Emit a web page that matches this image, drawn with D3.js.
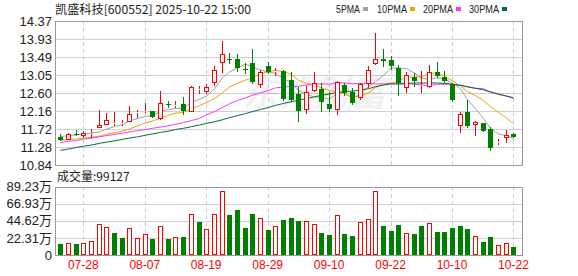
<!DOCTYPE html>
<html>
<head>
<meta charset="utf-8">
<script src="https://cdn.jsdelivr.net/npm/d3@7/dist/d3.min.js"></script>
<style>
  body { margin: 0; background: #fff; }
  text { font-family: "Liberation Sans", Arial, sans-serif; }
</style>
</head>
<body>
<div id="chart"></div>
<script>
var svgWidth = 578;
var svgHeight = 276;

// trading days shown
var dates = ["07-23","07-24","07-25","07-28","07-29","07-30","07-31","08-01","08-04","08-05",
  "08-06","08-07","08-08","08-11","08-12","08-13","08-14","08-15","08-18","08-19",
  "08-20","08-21","08-22","08-25","08-26","08-27","08-28","08-29","09-01","09-02",
  "09-03","09-04","09-05","09-08","09-09","09-10","09-11","09-12","09-15","09-16",
  "09-17","09-18","09-19","09-22","09-23","09-24","09-25","09-26","09-29","09-30",
  "10-09","10-10","10-13","10-14","10-15","10-16","10-17","10-20","10-21","10-22"];

var opens = [11.53,11.46,11.61,11.55,11.59,11.74,11.82,11.87,11.86,11.90,
  12.14,12.15,12.16,11.97,12.33,12.29,12.33,12.13,12.68,12.63,
  12.84,13.33,13.44,13.44,13.20,13.33,12.80,13.27,13.14,13.14,
  12.92,12.58,12.19,12.65,12.70,12.33,12.19,12.80,12.64,12.48,
  12.82,13.31,13.45,13.42,13.22,12.72,12.99,12.77,12.76,13.13,
  12.99,12.82,11.80,12.13,11.82,11.86,11.73,11.39,11.50,11.61];
var highs = [11.59,11.63,11.69,11.67,11.72,12.19,12.12,12.13,11.94,12.29,
  12.19,12.35,12.16,12.65,12.41,12.41,12.51,12.78,12.78,12.82,
  13.27,13.89,13.58,13.55,13.35,13.68,13.17,13.36,13.22,13.16,
  13.13,12.76,12.78,13.11,12.84,12.64,12.90,12.86,12.72,12.86,
  13.27,14.07,13.68,13.50,13.29,13.13,13.10,13.14,13.28,13.36,
  13.15,12.85,12.13,12.43,11.93,11.88,11.76,11.48,11.71,11.62];
var lows = [11.43,11.45,11.55,11.49,11.49,11.74,11.82,11.80,11.80,11.90,
  12.00,12.11,12.00,11.94,12.23,12.23,12.07,12.13,12.58,12.58,
  12.78,13.09,13.31,13.13,13.06,12.82,12.73,13.06,13.03,12.40,
  12.39,11.90,12.08,12.63,12.15,12.15,12.07,12.54,12.31,12.43,
  12.72,13.29,13.24,13.18,12.53,12.60,12.76,12.61,12.73,12.97,
  12.86,12.39,11.63,11.74,11.55,11.64,11.18,11.32,11.38,11.49];
var closes = [11.45,11.61,11.60,11.62,11.63,11.82,11.94,11.88,11.87,12.08,
  12.15,12.16,12.02,12.35,12.31,12.32,12.16,12.76,12.70,12.75,
  13.16,13.55,13.43,13.23,13.19,12.87,13.13,13.12,13.15,12.46,
  12.43,12.17,12.64,12.86,12.39,12.21,12.88,12.60,12.35,12.83,
  13.17,13.44,13.39,13.27,12.84,13.05,12.90,12.80,13.13,13.01,
  12.90,12.43,12.08,11.80,11.90,11.67,11.25,11.40,11.57,11.53];

// volume in 万 (10k) lots
var volumes = [14.3,15.2,14.3,15.2,18.2,40.0,36.1,28.7,22.1,34.8,
  21.7,27.0,20.8,37.4,20.8,23.0,23.4,53.0,43.4,33.5,
  53.0,83.0,52.1,58.6,35.2,53.4,47.8,32.6,37.4,45.6,
  48.2,44.3,43.9,40.4,28.7,26.1,52.1,27.4,24.7,43.0,
  46.5,83.0,37.8,31.7,39.1,28.3,27.4,37.8,41.7,30.4,
  30.4,35.2,37.8,33.9,24.3,16.9,23.4,12.6,15.6,9.91];

var ma5 = [11.54,11.56,11.58,11.60,11.62,11.65,11.72,11.78,11.83,11.92,
  11.98,12.03,12.06,12.15,12.20,12.23,12.23,12.38,12.45,12.53,
  12.71,12.98,13.12,13.22,13.31,13.25,13.17,13.11,13.09,12.95,
  12.86,12.67,12.57,12.51,12.50,12.45,12.60,12.59,12.49,12.57,
  12.77,12.88,13.04,13.22,13.22,13.20,13.09,12.97,12.94,12.98,
  12.95,12.85,12.71,12.44,12.22,11.98,11.74,11.60,11.56,11.48];
var ma10 = [11.45,11.46,11.48,11.50,11.52,11.55,11.59,11.63,11.67,11.72,
  11.80,11.87,11.92,11.99,12.06,12.11,12.13,12.22,12.30,12.37,
  12.47,12.61,12.75,12.84,12.92,12.98,13.08,13.12,13.16,13.13,
  13.06,12.92,12.84,12.80,12.73,12.66,12.64,12.58,12.50,12.54,
  12.61,12.74,12.82,12.86,12.90,12.99,12.99,13.01,13.08,13.10,
  13.02,12.90,12.78,12.64,12.54,12.42,12.27,12.13,11.99,11.85];
var ma20 = [11.39,11.42,11.44,11.47,11.50,11.53,11.56,11.59,11.62,11.65,
  11.68,11.71,11.74,11.77,11.80,11.84,11.88,11.93,11.98,12.07,
  12.15,12.25,12.34,12.42,12.49,12.55,12.61,12.67,12.73,12.75,
  12.77,12.77,12.80,12.82,12.83,12.82,12.86,12.85,12.83,12.84,
  12.84,12.83,12.83,12.83,12.82,12.83,12.82,12.80,12.79,12.82,
  12.82,12.82,12.80,12.75,12.72,12.71,12.63,12.57,12.53,12.47];
var ma30 = [11.20,11.23,11.27,11.30,11.33,11.37,11.40,11.43,11.47,11.50,
  11.53,11.57,11.60,11.64,11.67,11.71,11.74,11.78,11.82,11.86,
  11.90,11.95,12.00,12.05,12.10,12.15,12.20,12.25,12.30,12.35,
  12.39,12.43,12.47,12.51,12.55,12.58,12.62,12.64,12.65,12.68,
  12.71,12.76,12.80,12.83,12.83,12.84,12.85,12.85,12.85,12.85,
  12.84,12.82,12.79,12.76,12.72,12.68,12.63,12.58,12.53,12.49];

var priceTicks = ["14.37","13.93","13.49","13.05","12.60","12.16","11.72","11.28","10.84"];
var volTicks = [0, 22.31, 44.62, 66.93, 89.23];
var dateTicks = ["07-28","08-07","08-19","08-29","09-10","09-22","10-10","10-22"];

var maNames = ["5PMA","10PMA","20PMA","30PMA"];
var maColors = ["#a0a0a0","#f5a000","#ff33ff","#006f35"];

var RED = "#ff0000", GREEN = "#008000";

var plotLeft = 55, plotRight = 522;
var priceTop = 21, priceBottom = 165;
var volTop = 186.5, volBottom = 255;

var svg = d3.select("#chart").append("svg")
  .attr("width", svgWidth)
  .attr("height", svgHeight);

var x = d3.scaleBand().domain(dates).range([56.4, 517.3]).padding(0);
function xc(d) { return Math.round(x(d) + x.bandwidth() / 2); }

var y = d3.scaleLinear().domain([10.84, 14.37]).range([priceBottom, priceTop]);
var yv = d3.scaleLinear().domain([0, 89.23]).range([volBottom, volTop]);

// title + legend
svg.append("text")
  .attr("x", 55).attr("y", 14)
  .attr("font-size", 12)
  .attr("fill", "#222")
  .style("font-family", "'Noto Sans CJK SC', sans-serif")
  .attr("textLength", 196).attr("lengthAdjust", "spacingAndGlyphs")
  .text("凯盛科技[600552] 2025-10-22 15:00");

var legendX = [336, 377, 423, 469];
var legendW = [24, 30, 30, 30];
maNames.forEach(function (n, i) {
  svg.append("text")
    .attr("x", legendX[i]).attr("y", 13)
    .attr("font-size", 11).attr("fill", "#222")
    .attr("textLength", legendW[i]).attr("lengthAdjust", "spacingAndGlyphs")
    .text(n);
  svg.append("rect")
    .attr("x", legendX[i] + legendW[i] + 3).attr("y", 7)
    .attr("width", 5).attr("height", 4)
    .attr("fill", maColors[i]);
});

// grids
function drawPanel(top, bottom, yScale, values) {
  var g = svg.append("g").attr("shape-rendering", "crispEdges");
  g.selectAll(".h").data(values).enter().append("line")
    .attr("x1", plotLeft).attr("x2", plotRight)
    .attr("y1", function (v) { return Math.round(yScale(v)) + 0.5; })
    .attr("y2", function (v) { return Math.round(yScale(v)) + 0.5; })
    .attr("stroke", "#cfcfcf");
  g.selectAll(".v").data(dateTicks).enter().append("line")
    .attr("x1", function (d) { return xc(d) + 0.5; })
    .attr("x2", function (d) { return xc(d) + 0.5; })
    .attr("y1", top).attr("y2", bottom)
    .attr("stroke", "#cfcfcf").attr("stroke-dasharray", "4,3");
  g.append("rect")
    .attr("x", plotLeft + 0.5).attr("y", Math.round(top) + 0.5)
    .attr("width", plotRight - plotLeft).attr("height", Math.round(bottom) - Math.round(top))
    .attr("fill", "none").attr("stroke", "#999");
}
drawPanel(priceTop, priceBottom, y, priceTicks.map(Number));
drawPanel(volTop, volBottom, yv, volTicks);

// watermark
svg.append("text")
  .attr("x", 314).attr("y", 106)
  .attr("text-anchor", "middle")
  .attr("font-size", 36).attr("font-weight", "bold").attr("font-style", "italic")
  .style("font-family", "'Noto Sans CJK SC', sans-serif")
  .attr("fill", "#000").attr("opacity", 0.05)
  .text("东方财富");

// y axes
var priceAxis = svg.append("g")
  .attr("transform", "translate(" + plotLeft + ",0)")
  .call(d3.axisLeft(y).tickValues(priceTicks.map(Number))
    .tickFormat(function (v, i) { return priceTicks[i]; })
    .tickSize(0).tickPadding(3));
var volAxis = svg.append("g")
  .attr("transform", "translate(" + plotLeft + ",0)")
  .call(d3.axisLeft(yv).tickValues(volTicks)
    .tickFormat(function (v) { return v === 0 ? "0" : v.toFixed(2) + "万"; })
    .tickSize(0).tickPadding(3));
[priceAxis, volAxis].forEach(function (a) {
  a.select(".domain").remove();
  a.selectAll("text").attr("font-size", 13).attr("fill", "#222")
    .style("font-family", "'Liberation Sans', 'Noto Sans CJK SC', sans-serif");
});

// x axis
var xAxis = svg.append("g")
  .attr("transform", "translate(0," + volBottom + ")")
  .call(d3.axisBottom(x).tickValues(dateTicks).tickSize(0).tickPadding(5));
xAxis.select(".domain").remove();
xAxis.selectAll("text").attr("font-size", 12).attr("fill", RED);

// volume label
svg.append("text")
  .attr("x", 57).attr("y", 181)
  .attr("font-size", 12).attr("fill", "#222")
  .style("font-family", "'Noto Sans CJK SC', sans-serif")
  .text("成交量:99127");

// moving averages
[ma5, ma10, ma20, ma30].forEach(function (series, k) {
  var line = d3.line()
    .x(function (v, i) { return xc(dates[i]) + 0.5; })
    .y(function (v) { return y(v); });
  svg.append("path")
    .datum(series)
    .attr("d", line)
    .attr("fill", "none")
    .attr("stroke", maColors[k])
    .attr("stroke-width", 1);
});

// candles
var candles = svg.append("g").attr("shape-rendering", "crispEdges");
dates.forEach(function (d, i) {
  var o = opens[i], c = closes[i];
  var up = c >= o;
  var col = up ? RED : GREEN;
  var cx = xc(d);
  var top = Math.round(y(Math.max(o, c)));
  var bot = Math.round(y(Math.min(o, c)));
  if (bot - top < 1) bot = top + 1;
  candles.append("line")
    .attr("x1", cx + 0.5).attr("x2", cx + 0.5)
    .attr("y1", Math.round(y(highs[i]))).attr("y2", top)
    .attr("stroke", col);
  candles.append("line")
    .attr("x1", cx + 0.5).attr("x2", cx + 0.5)
    .attr("y1", bot).attr("y2", Math.round(y(lows[i])))
    .attr("stroke", col);
  if (up) {
    candles.append("rect")
      .attr("x", cx - 2 + 0.5).attr("y", top + 0.5)
      .attr("width", 4).attr("height", Math.max(bot - top - 1, 0))
      .attr("fill", "#fff").attr("stroke", col).attr("stroke-width", 1);
  } else {
    candles.append("rect")
      .attr("x", cx - 2).attr("y", top)
      .attr("width", 5).attr("height", bot - top)
      .attr("fill", col);
  }
});

// volume bars, coloured by close vs previous close
var bars = svg.append("g").attr("shape-rendering", "crispEdges");
dates.forEach(function (d, i) {
  var prev = i === 0 ? opens[0] : closes[i - 1];
  var up = closes[i] >= prev;
  var cx = xc(d);
  var top = Math.round(yv(volumes[i]));
  if (up) {
    bars.append("rect")
      .attr("x", cx - 2 + 0.5).attr("y", top + 0.5)
      .attr("width", 4).attr("height", volBottom - top - 1)
      .attr("fill", "#fff").attr("stroke", RED);
  } else {
    bars.append("rect")
      .attr("x", cx - 2).attr("y", top)
      .attr("width", 5).attr("height", volBottom - top)
      .attr("fill", GREEN);
  }
});
</script>
</body>
</html>
